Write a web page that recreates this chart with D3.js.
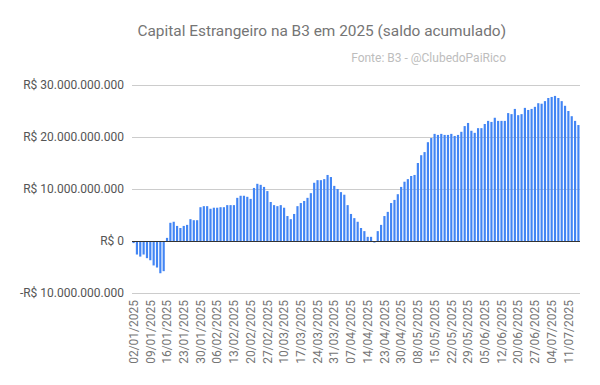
<!DOCTYPE html>
<html lang="pt">
<head>
<meta charset="utf-8">
<title>Capital Estrangeiro na B3 em 2025</title>
<script src="https://d3js.org/d3.v7.min.js"></script>
<style>
  body { margin: 0; background: #fff; }
  text { font-family: Roboto, "Noto Sans", sans-serif; }
  .grid line { stroke: #cccccc; stroke-width: 1px; }
  .bar { fill: #4285f4; }
</style>
</head>
<body>
<div id="chart"></div>
<script>

// trading days of B3 (dd/mm/yyyy)
var dias = [
  "02/01","03/01","06/01","07/01","08/01","09/01","10/01","13/01","14/01","15/01",
  "16/01","17/01","20/01","21/01","22/01","23/01","24/01","27/01","28/01","29/01",
  "30/01","31/01","03/02","04/02","05/02","06/02","07/02","10/02","11/02","12/02",
  "13/02","14/02","17/02","18/02","19/02","20/02","21/02","24/02","25/02","26/02",
  "27/02","28/02","05/03","06/03","07/03","10/03","11/03","12/03","13/03","14/03",
  "17/03","18/03","19/03","20/03","21/03","24/03","25/03","26/03","27/03","28/03",
  "31/03","01/04","02/04","03/04","04/04","07/04","08/04","09/04","10/04","11/04",
  "14/04","15/04","16/04","17/04","22/04","23/04","24/04","25/04","28/04","29/04",
  "30/04","02/05","05/05","06/05","07/05","08/05","09/05","12/05","13/05","14/05",
  "15/05","16/05","19/05","20/05","21/05","22/05","23/05","26/05","27/05","28/05",
  "29/05","30/05","02/06","03/06","04/06","05/06","06/06","09/06","10/06","11/06",
  "12/06","13/06","16/06","17/06","18/06","20/06","23/06","24/06","25/06","26/06",
  "27/06","30/06","01/07","02/07","03/07","04/07","07/07","08/07","09/07","10/07",
  "11/07","14/07","15/07","16/07"
].map(function(d) { return d + "/2025"; });

// accumulated balance, in billions of R$
var saldo = [
  -0.4, -2.6, -3.0, -2.6, -3.3, -3.7, -4.7, -5.1, -6.2, -5.8,
   0.6,  3.5,  3.7,  2.9,  2.5,  2.9,  3.1,  4.2,  4.0,  4.0,
   6.5,  6.7,  6.7,  6.2,  6.4,  6.4,  6.5,  6.5,  6.9,  6.9,
   6.9,  8.3,  8.7,  8.7,  8.5,  8.1, 10.2, 11.0, 10.8, 10.4,
   9.6,  7.5,  6.9,  6.7,  6.9,  6.4,  4.8,  4.2,  5.2,  6.7,
   7.3,  7.7,  8.3,  9.2, 11.2, 11.7, 11.7, 11.9, 12.7, 12.3,
  10.6, 10.0,  9.4,  8.9,  6.9,  5.2,  4.4,  3.7,  2.5,  1.9,
   0.8,  0.8, -0.3,  1.9,  3.1,  4.8,  5.6,  7.3,  7.9,  9.0,
  10.4, 11.4, 11.9, 12.5, 12.7, 15.0, 16.5, 17.1, 19.0, 19.8,
  20.6, 20.4, 20.6, 20.4, 20.4, 20.6, 20.2, 20.4, 21.0, 22.1,
  22.7, 21.2, 20.8, 21.7, 21.7, 22.5, 23.1, 22.9, 23.7, 23.1,
  23.1, 23.1, 24.6, 24.4, 25.4, 24.2, 24.4, 25.6, 25.2, 25.4,
  25.8, 26.5, 26.4, 26.9, 27.5, 27.7, 27.9, 27.5, 26.9, 26.0,
  25.0, 24.0, 23.1, 22.3
];

var yTicks = [-10, 0, 10, 20, 30];

var titulo = "Capital Estrangeiro na B3 em 2025 (saldo acumulado)";
var fonte = "Fonte: B3 - @ClubedoPaiRico";

var data = dias.map(function(d, i) { return { dia: d, valor: saldo[i] }; });

var width = 600, height = 385;
var margin = { top: 85, right: 20, bottom: 92, left: 132 };

var svg = d3.select("#chart").append("svg")
    .attr("width", width)
    .attr("height", height);

var x = d3.scaleBand()
    .domain(dias)
    .range([margin.left, width - margin.right])
    .paddingInner(0.35)
    .paddingOuter(0.15);

var y = d3.scaleLinear()
    .domain([-10, 30])
    .range([margin.top + 208, margin.top]);

// title
svg.append("text")
    .attr("x", 506)
    .attr("y", 36)
    .attr("text-anchor", "end")
    .style("font-size", "15.4px")
    .style("fill", "#757575")
    .text(titulo);

svg.append("text")
    .attr("x", 506)
    .attr("y", 62)
    .attr("text-anchor", "end")
    .style("font-size", "12px")
    .style("fill", "#bdbdbd")
    .text(fonte);

// gridlines
svg.append("g")
    .attr("class", "grid")
  .selectAll("line")
    .data(yTicks.filter(function(t) { return t != 0; }))
    .enter()
    .append("line")
      .attr("x1", margin.left)
      .attr("x2", width - margin.right)
      .attr("y1", function(d) { return Math.round(y(d)) + 0.5; })
      .attr("y2", function(d) { return Math.round(y(d)) + 0.5; });

// y labels
var fmt = d3.formatLocale({ decimal: ",", thousands: ".", grouping: [3], currency: ["R$ ", ""] });
var fmtNum = fmt.format(",.0f");
svg.append("g")
  .selectAll("text")
    .data(yTicks)
    .enter()
    .append("text")
      .attr("x", 124)
      .attr("y", function(d) { return y(d); })
      .attr("dy", "0.35em")
      .attr("text-anchor", "end")
      .style("font-size", "12px")
      .style("fill", "#555")
      .text(function(d) {
        var v = Math.abs(d) * 1e9;
        return (d < 0 ? "-" : "") + "R$ " + fmtNum(v);
      });

// bars
svg.append("g")
  .selectAll("rect")
    .data(data)
    .enter()
    .append("rect")
      .attr("class", "bar")
      .attr("x", function(d) { return x(d.dia); })
      .attr("width", x.bandwidth())
      .attr("y", function(d) { return y(Math.max(0, d.valor)); })
      .attr("height", function(d) { return Math.abs(y(d.valor) - y(0)); });

// zero line
svg.append("line")
    .attr("x1", margin.left)
    .attr("x2", width - margin.right)
    .attr("y1", Math.round(y(0)) + 0.5)
    .attr("y2", Math.round(y(0)) + 0.5)
    .style("stroke", "#333")
    .style("stroke-width", 1);

// x labels, one every 5 trading days
svg.append("g")
  .selectAll("text")
    .data(dias.filter(function(d, i) { return i % 5 == 0; }))
    .enter()
    .append("text")
      .attr("transform", function(d) {
        return "translate(" + (x(d) + x.bandwidth() / 2) + ",300) rotate(-90)";
      })
      .attr("dy", "0.35em")
      .attr("text-anchor", "end")
      .style("font-size", "12px")
      .style("fill", "#757575")
      .text(function(d) { return d; });

</script>
</body>
</html>
